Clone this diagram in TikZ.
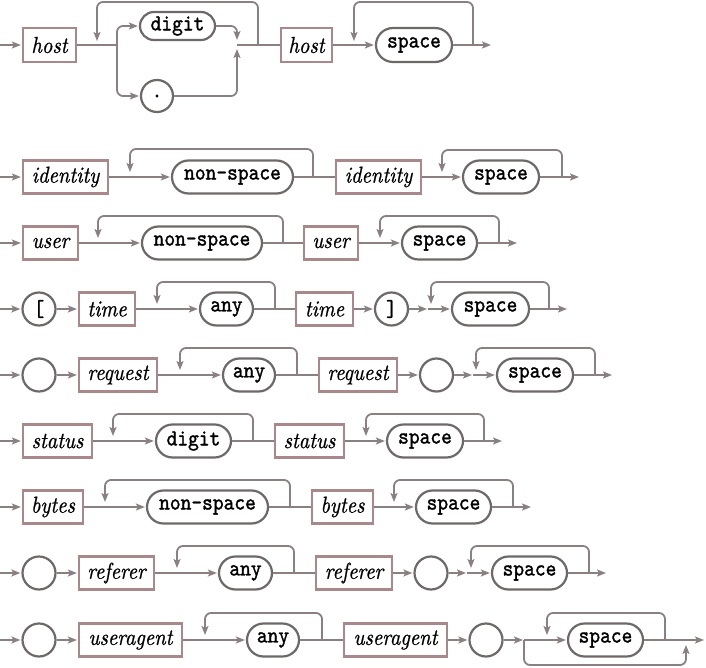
\documentclass[tikz,border=0pt]{standalone}
\usepackage{fontspec}
\usetikzlibrary{shapes.misc,arrows.meta}
\newfontface\ttheavy{lmmono10-regular.otf}[FakeStretch=0.89, RawFeature={embolden=1.3}]
\newfontface\itheavy{lmroman10-italic.otf}[FakeStretch=0.89, RawFeature={embolden=0.8}]
\definecolor{lnc}{RGB}{138,128,130}
\definecolor{boxc}{RGB}{168,136,138}
\definecolor{pillc}{RGB}{110,104,105}
\newcommand\dfont{\fontsize{23pt}{26pt}\selectfont}
\tikzset{
  bx/.style={draw=boxc, line width=2.2pt, rectangle, inner sep=0pt, minimum height=33pt, font=\itheavy\dfont},
  pill/.style={draw=pillc, line width=2.2pt, rounded rectangle, inner sep=0pt, minimum height=33pt, font=\ttheavy\dfont},
  circ/.style={draw=pillc, line width=2.2pt, circle, inner sep=0pt, minimum size=33pt, font=\ttheavy\dfont},
  ln/.style={draw=lnc, line width=1.8pt, rounded corners=6pt},
  arr/.style={ln, -{Stealth[length=9pt,width=7pt,inset=2pt]}, shorten >=1pt},
}
\begin{document}
\begin{tikzpicture}[x=1pt,y=-1pt]
\useasboundingbox (0,0) rectangle (706,668);
% ---------------- row 1
\coordinate (s1) at (0,45);
\node[bx, minimum width=53pt, minimum height=34pt] (host1) at (49.5,45) {host};
\coordinate (sp1) at (117,45);
\node[pill, minimum width=75pt, minimum height=28pt] (digit1) at (177.5,26) {digit};
\node[circ, minimum size=32pt] (dot1) at (157,96) {.};
\coordinate (j1) at (237,45);
\coordinate (l1a) at (97,45);
\coordinate (l1b) at (258,45);
\node[bx, minimum width=51pt, minimum height=34pt] (host1b) at (306.5,45) {host};
\node[pill, minimum width=76pt, minimum height=34pt] (space1) at (414,45) {space};
\coordinate (l1c) at (354,45);
\coordinate (l1d) at (473,45);
\coordinate (e1) at (492,45);
\draw[arr] (s1) -- (host1);
\draw[ln] (host1) -- (sp1);
\draw[arr] (sp1) |- (digit1);
\draw[arr] (sp1) |- (dot1);
\draw[arr] (digit1) -| ([yshift=4pt]j1);
\draw[arr] (dot1) -| ([yshift=-3pt]j1);
\draw[ln] (j1) -- (host1b);
\draw[arr] (l1b) |- ([yshift=43pt]l1a) -- ([yshift=3pt]l1a);
\draw[arr] (host1b) -- (space1);
\draw[arr] (space1) -- (e1);
\draw[arr] (l1d) |- ([yshift=43pt]l1c) -- ([yshift=3pt]l1c);
% ---------------- row 2
\coordinate (s2) at (0,177);
\node[bx, minimum width=85pt] (id2) at (65.5,177) {identity};
\coordinate (l2a) at (130,177);
\node[pill, minimum width=121pt] (ns2) at (232.5,177) {non-space};
\coordinate (l2b) at (313,177);
\node[bx, minimum width=85pt] (id2b) at (378.5,177) {identity};
\coordinate (l2c) at (442,177);
\node[pill, minimum width=76pt] (sp2) at (501,177) {space};
\coordinate (l2d) at (562,177);
\coordinate (e2) at (580,177);
\draw[arr] (s2) -- (id2);
\draw[arr] (id2) -- (ns2);
\draw[ln] (ns2) -- (id2b);
\draw[arr] (l2b) |- ([yshift=28pt]l2a) -- ([yshift=4pt]l2a);
\draw[arr] (id2b) -- (sp2);
\draw[arr] (sp2) -- (e2);
\draw[arr] (l2d) |- ([yshift=27pt]l2c) -- ([yshift=4pt]l2c);
% ---------------- row 3
\coordinate (s3) at (0,243);
\node[bx, minimum width=55pt] (us3) at (50.5,243) {user};
\coordinate (l3a) at (98,243);
\node[pill, minimum width=120pt] (ns3) at (202,243) {non-space};
\coordinate (l3b) at (283,243);
\node[bx, minimum width=54pt] (us3b) at (331,243) {user};
\coordinate (l3c) at (380,243);
\node[pill, minimum width=75pt] (sp3) at (439.5,243) {space};
\coordinate (l3d) at (499,243);
\coordinate (e3) at (518,243);
\draw[arr] (s3) -- (us3);
\draw[arr] (us3) -- (ns3);
\draw[ln] (ns3) -- (us3b);
\draw[arr] (l3b) |- ([yshift=27pt]l3a) -- ([yshift=4pt]l3a);
\draw[arr] (us3b) -- (sp3);
\draw[arr] (sp3) -- (e3);
\draw[arr] (l3d) |- ([yshift=27pt]l3c) -- ([yshift=4pt]l3c);
% ---------------- row 4
\coordinate (s4) at (0,309);
\node[circ] (c4a) at (39,309) {[};
\node[bx, minimum width=56pt] (tm4) at (107,309) {time};
\coordinate (l4a) at (157,309);
\node[pill, minimum width=53pt] (an4) at (226.5,309) {any};
\coordinate (l4b) at (275,309);
\node[bx, minimum width=57pt] (tm4b) at (324.5,309) {time};
\node[circ] (c4b) at (391.5,309) {]};
\coordinate (j4) at (428,309);
\coordinate (l4c) at (431,309);
\node[pill, minimum width=77pt] (sp4) at (490.5,309) {space};
\coordinate (l4d) at (549,309);
\coordinate (e4) at (568,309);
\draw[arr] (s4) -- (c4a);
\draw[arr] (c4a) -- (tm4);
\draw[arr] (tm4) -- (an4);
\draw[ln] (an4) -- (tm4b);
\draw[arr] (l4b) |- ([yshift=27pt]l4a) -- ([yshift=4pt]l4a);
\draw[arr] (tm4b) -- (c4b);
\draw[arr] (c4b) -- (j4);
\draw[arr] (j4) -- (sp4);
\draw[arr] (sp4) -- (e4);
\draw[arr] (l4d) |- ([yshift=27pt]l4c) -- ([yshift=4pt]l4c);
% ---------------- row 5
\coordinate (s5) at (0,375);
\node[circ] (c5a) at (39,375) {};
\node[bx, minimum width=78pt] (rq5) at (118,375) {request};
\coordinate (l5a) at (180,375);
\node[pill, minimum width=52pt] (an5) at (249,375) {any};
\coordinate (l5b) at (297,375);
\node[bx, minimum width=78pt] (rq5b) at (358,375) {request};
\node[circ] (c5b) at (436.5,375) {};
\coordinate (j5) at (473,375);
\coordinate (l5c) at (476,375);
\node[pill, minimum width=76pt] (sp5) at (535,375) {space};
\coordinate (l5d) at (595,375);
\coordinate (e5) at (613,375);
\draw[arr] (s5) -- (c5a);
\draw[arr] (c5a) -- (rq5);
\draw[arr] (rq5) -- (an5);
\draw[ln] (an5) -- (rq5b);
\draw[arr] (l5b) |- ([yshift=27pt]l5a) -- ([yshift=4pt]l5a);
\draw[arr] (rq5b) -- (c5b);
\draw[arr] (c5b) -- (j5);
\draw[arr] (j5) -- (sp5);
\draw[arr] (sp5) -- (e5);
\draw[arr] (l5d) |- ([yshift=27pt]l5c) -- ([yshift=4pt]l5c);
% ---------------- row 6
\coordinate (s6) at (0,441);
\node[bx, minimum width=69pt] (st6) at (57.5,441) {status};
\coordinate (l6a) at (113,441);
\node[pill, minimum width=75pt] (dg6) at (193.5,441) {digit};
\coordinate (l6b) at (253,441);
\node[bx, minimum width=69pt] (st6b) at (309.5,441) {status};
\coordinate (l6c) at (366,441);
\node[pill, minimum width=76pt] (sp6) at (425,441) {space};
\coordinate (l6d) at (484,441);
\coordinate (e6) at (503,441);
\draw[arr] (s6) -- (st6);
\draw[arr] (st6) -- (dg6);
\draw[ln] (dg6) -- (st6b);
\draw[arr] (l6b) |- ([yshift=27pt]l6a) -- ([yshift=4pt]l6a);
\draw[arr] (st6b) -- (sp6);
\draw[arr] (sp6) -- (e6);
\draw[arr] (l6d) |- ([yshift=27pt]l6c) -- ([yshift=4pt]l6c);
% ---------------- row 7
\coordinate (s7) at (0,507);
\node[bx, minimum width=60pt] (by7) at (53,507) {bytes};
\coordinate (l7a) at (105,507);
\node[pill, minimum width=121pt] (ns7) at (207.5,507) {non-space};
\coordinate (l7b) at (290,507);
\node[bx, minimum width=61pt] (by7b) at (342.5,507) {bytes};
\coordinate (l7c) at (394,507);
\node[pill, minimum width=75pt] (sp7) at (453.5,507) {space};
\coordinate (l7d) at (513,507);
\coordinate (e7) at (532,507);
\draw[arr] (s7) -- (by7);
\draw[arr] (by7) -- (ns7);
\draw[ln] (ns7) -- (by7b);
\draw[arr] (l7b) |- ([yshift=27pt]l7a) -- ([yshift=4pt]l7a);
\draw[arr] (by7b) -- (sp7);
\draw[arr] (sp7) -- (e7);
\draw[arr] (l7d) |- ([yshift=27pt]l7c) -- ([yshift=4pt]l7c);
% ---------------- row 8
\coordinate (s8) at (0,573);
\node[circ] (c8a) at (39,573) {};
\node[bx, minimum width=75pt] (rf8) at (116.5,573) {referer};
\coordinate (l8a) at (177,573);
\node[pill, minimum width=53pt] (an8) at (245.5,573) {any};
\coordinate (l8b) at (294,573);
\node[bx, minimum width=76pt] (rf8b) at (354,573) {referer};
\node[circ] (c8b) at (431,573) {};
\coordinate (j8) at (467,573);
\coordinate (l8c) at (471,573);
\node[pill, minimum width=75pt] (sp8) at (529.5,573) {space};
\coordinate (l8d) at (589,573);
\coordinate (e8) at (607,573);
\draw[arr] (s8) -- (c8a);
\draw[arr] (c8a) -- (rf8);
\draw[arr] (rf8) -- (an8);
\draw[ln] (an8) -- (rf8b);
\draw[arr] (l8b) |- ([yshift=27pt]l8a) -- ([yshift=4pt]l8a);
\draw[arr] (rf8b) -- (c8b);
\draw[arr] (c8b) -- (j8);
\draw[arr] (j8) -- (sp8);
\draw[arr] (sp8) -- (e8);
\draw[arr] (l8d) |- ([yshift=27pt]l8c) -- ([yshift=4pt]l8c);
% ---------------- row 9
\coordinate (s9) at (0,640);
\node[circ] (c9a) at (39,640) {};
\node[bx, minimum width=103pt] (ua9) at (130.5,640) {useragent};
\coordinate (l9a) at (205,640);
\node[pill, minimum width=52pt] (an9) at (273,640) {any};
\coordinate (l9b) at (322,640);
\node[bx, minimum width=103pt] (ua9b) at (395.5,640) {useragent};
\node[circ] (c9b) at (486,640) {};
\coordinate (j9) at (524,640);
\coordinate (l9c) at (547,640);
\node[pill, minimum width=75pt] (sp9) at (605.5,640) {space};
\coordinate (l9d) at (665,640);
\coordinate (b9) at (686,640);
\coordinate (e9) at (705,640);
\draw[arr] (s9) -- (c9a);
\draw[arr] (c9a) -- (ua9);
\draw[arr] (ua9) -- (an9);
\draw[ln] (an9) -- (ua9b);
\draw[arr] (l9b) |- ([yshift=27pt]l9a) -- ([yshift=4pt]l9a);
\draw[arr] (ua9b) -- (c9b);
\draw[arr] (c9b) -- (j9);
\draw[arr] (j9) -- (sp9);
\draw[arr] (sp9) -- (e9);
\draw[arr] (l9d) |- ([yshift=27pt]l9c) -- ([yshift=4pt]l9c);
\draw[arr] (j9) |- ([yshift=-25pt]b9) -- ([yshift=-4pt]b9);
\end{tikzpicture}
\end{document}
